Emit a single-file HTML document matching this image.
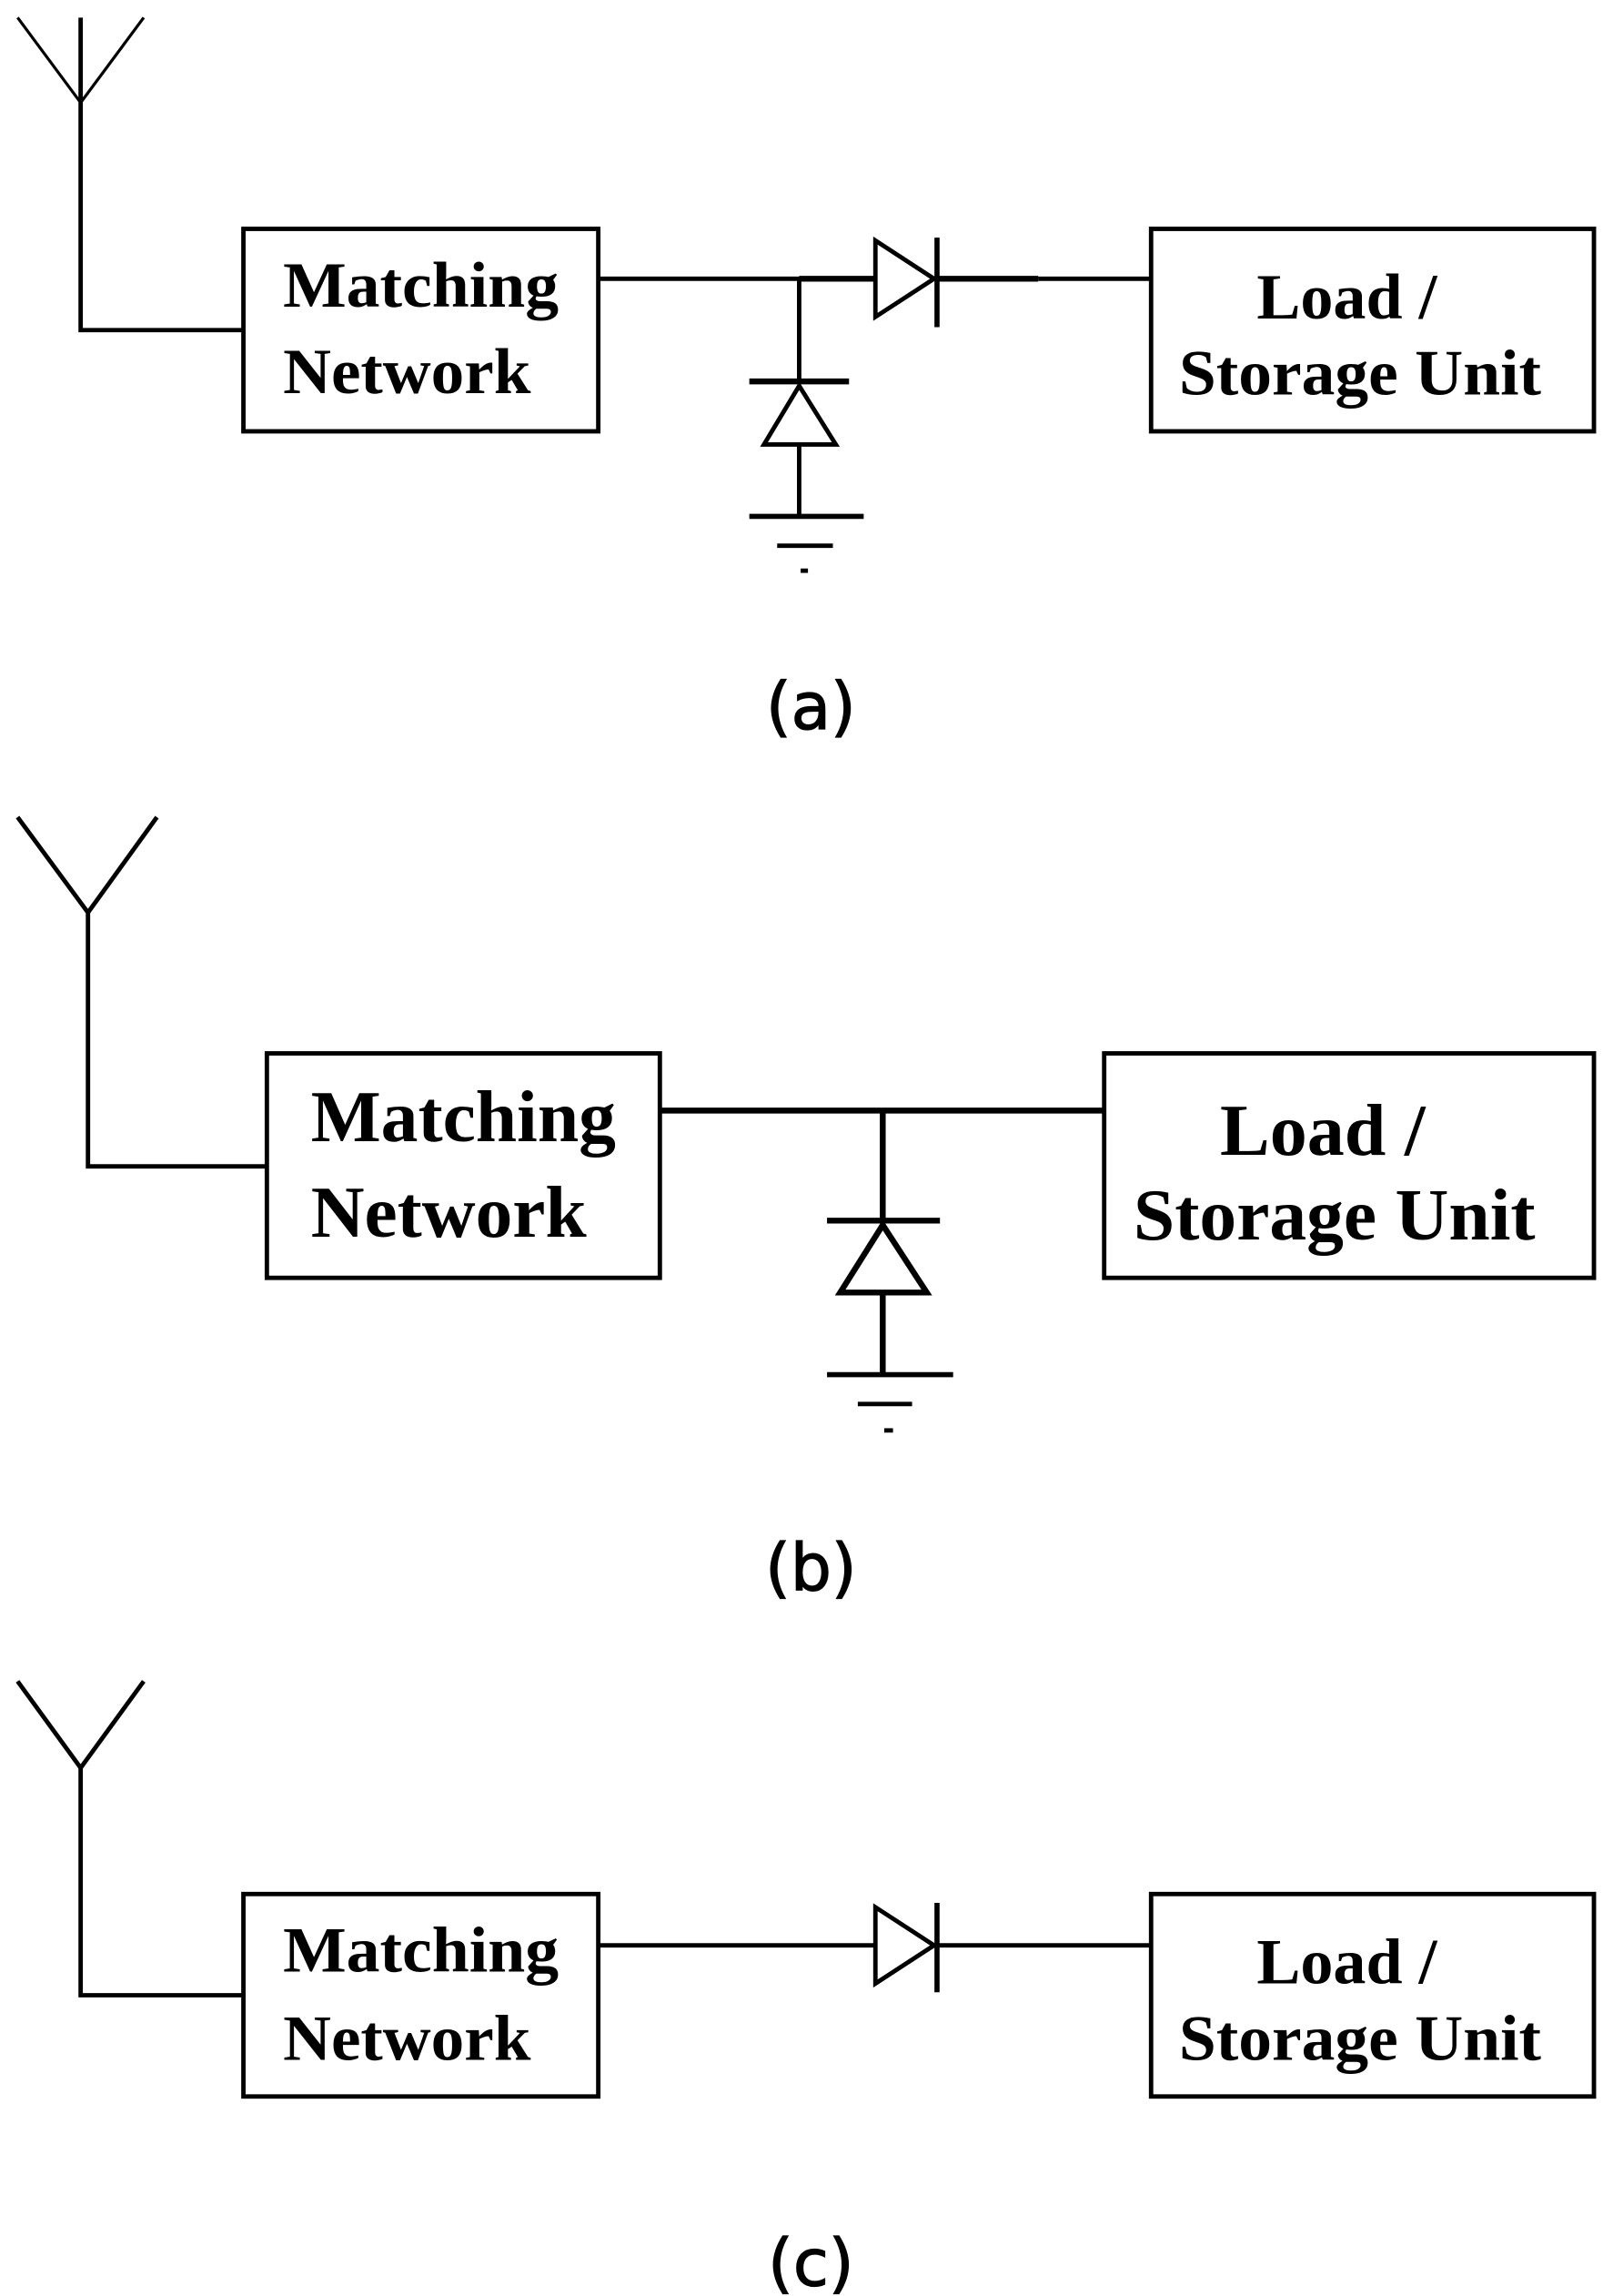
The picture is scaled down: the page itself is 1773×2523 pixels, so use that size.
<!DOCTYPE html>
<html><head><meta charset="utf-8"><style>html,body{margin:0;padding:0;background:#fff}svg{display:block}</style></head>
<body>
<svg width="1773" height="2523" viewBox="0 0 1100 1565" preserveAspectRatio="none" xmlns="http://www.w3.org/2000/svg">
<g fill="none" stroke="#000" stroke-width="3">
<!-- panel a -->
<polyline points="12,12 55,70 98,12" stroke-width="2"/>
<polyline points="55,12 55,225 166,225"/>
<rect x="166" y="156" width="242" height="138"/>
<line x1="408" y1="190" x2="545" y2="190"/>
<line x1="545" y1="190" x2="597" y2="190" stroke-width="4"/>
<polygon points="597,164 597,216 637,190"/>
<line x1="639" y1="162" x2="639" y2="223" stroke-width="3.5"/>
<line x1="639" y1="190" x2="708" y2="190" stroke-width="4"/>
<line x1="708" y1="190" x2="785" y2="190"/>
<rect x="785" y="156" width="302" height="138"/>
<line x1="545" y1="190" x2="545" y2="260"/>
<line x1="511" y1="260" x2="579" y2="260" stroke-width="4"/>
<polygon points="545,263 521,303 570,303"/>
<line x1="545" y1="303" x2="545" y2="352"/>
<line x1="511" y1="352" x2="589" y2="352" stroke-width="3.5"/>
<line x1="530" y1="372" x2="568" y2="372" stroke-width="3"/>
<line x1="546" y1="389" x2="551" y2="389" stroke-width="3"/>
<!-- panel b -->
<polyline points="12,557 60,622 107,557"/>
<polyline points="60,622 60,795 182,795"/>
<rect x="182" y="718" width="268" height="153"/>
<line x1="450" y1="757" x2="753" y2="757" stroke-width="4"/>
<line x1="602" y1="757" x2="602" y2="832" stroke-width="4"/>
<line x1="564" y1="832" x2="641" y2="832" stroke-width="4"/>
<polygon points="602,835 573,881 632,881" stroke-width="4"/>
<line x1="602" y1="881" x2="602" y2="937" stroke-width="4"/>
<line x1="564" y1="937" x2="650" y2="937" stroke-width="3.5"/>
<line x1="585" y1="957" x2="622" y2="957" stroke-width="3"/>
<line x1="603" y1="975" x2="609" y2="975" stroke-width="3"/>
<rect x="753" y="718" width="334" height="153"/>
<!-- panel c -->
<polyline points="12,1146 55,1205 98,1146"/>
<polyline points="55,1205 55,1360 166,1360"/>
<rect x="166" y="1291" width="242" height="138"/>
<line x1="408" y1="1326" x2="597" y2="1326"/>
<polygon points="597,1300 597,1352 637,1326"/>
<line x1="639" y1="1297" x2="639" y2="1358" stroke-width="3.5"/>
<line x1="639" y1="1326" x2="785" y2="1326"/>
<rect x="785" y="1291" width="302" height="138"/>
</g>
<g font-family="Liberation Serif, serif" font-weight="bold" fill="#000">
<text x="193" y="209" font-size="44" textLength="188" lengthAdjust="spacingAndGlyphs">Matching</text>
<text x="193" y="268" font-size="44" textLength="169" lengthAdjust="spacingAndGlyphs">Network</text>
<text x="857" y="217" font-size="44" textLength="123" lengthAdjust="spacingAndGlyphs">Load /</text>
<text x="804" y="269" font-size="44" textLength="247" lengthAdjust="spacingAndGlyphs">Storage Unit</text>
<text x="212" y="778" font-size="50" textLength="208" lengthAdjust="spacingAndGlyphs">Matching</text>
<text x="212" y="843" font-size="50" textLength="188" lengthAdjust="spacingAndGlyphs">Network</text>
<text x="832" y="787" font-size="50" textLength="140" lengthAdjust="spacingAndGlyphs">Load /</text>
<text x="773" y="845" font-size="50" textLength="274" lengthAdjust="spacingAndGlyphs">Storage Unit</text>
<text x="193" y="1344" font-size="44" textLength="188" lengthAdjust="spacingAndGlyphs">Matching</text>
<text x="193" y="1404" font-size="44" textLength="169" lengthAdjust="spacingAndGlyphs">Network</text>
<text x="857" y="1352" font-size="44" textLength="123" lengthAdjust="spacingAndGlyphs">Load /</text>
<text x="804" y="1404" font-size="44" textLength="247" lengthAdjust="spacingAndGlyphs">Storage Unit</text>
</g>
<g font-family="DejaVu Sans, sans-serif" font-size="44" fill="#000" stroke="#000" stroke-width="0.8" text-anchor="middle">
<text x="553" y="497">(a)</text>
<text x="553" y="1084">(b)</text>
<text x="553" y="1558">(c)</text>
</g>
</svg>
</body></html>
